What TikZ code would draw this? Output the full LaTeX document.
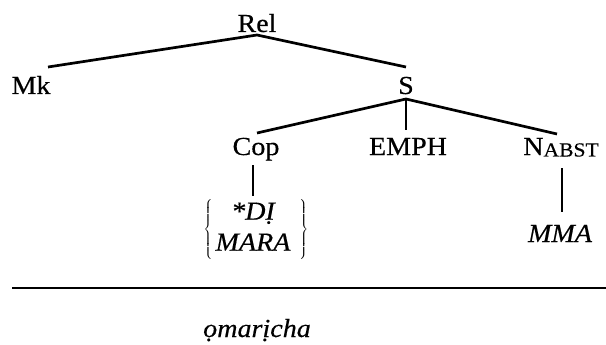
\documentclass[tikz,border=0pt]{standalone}
\usepackage{fontspec}
\setmainfont[FakeStretch=1.08, FakeBold=0.4]{Liberation Serif}
\begin{document}
\begin{tikzpicture}[x=1pt, y={(0pt,-1pt)},
  lab/.style={inner sep=0pt, anchor=base, font=\fontsize{26}{30}\selectfont},
  ital/.style={inner sep=0pt, anchor=base, font=\fontsize{26}{30}\selectfont\itshape},
  branch/.style={line width=2.7pt}]
\useasboundingbox (0,0) rectangle (606,345);

% labels of the tree
\node[lab] (rel)   at (257,32)  {Rel};
\node[lab] (mk)    at (31,94)   {Mk};
\node[lab] (s)     at (406,94)  {S};
\node[lab] (cop)   at (256,155) {Cop};
\node[lab] (emph)  at (408,155) {EMPH};
\node[lab] (nabst) at (561,155) {N\raisebox{-1.5pt}{\fontsize{20}{24}\selectfont ABST}};
\node[inner sep=0pt] (alt) at (256,229)
  {\fontsize{26}{31}\selectfont$\left\{\begin{tabular}{@{\hspace{3pt}}c@{\hspace{9pt}}}
   \itshape *DỊ\\ \itshape MARA\end{tabular}\right\}$};
\node[ital] (mma) at (560,242) {MMA};
\node[ital, anchor=base west] (form) at (203,337) {ọmarịcha};

% branch end points
\coordinate (relJ)  at (257,35);
\coordinate (mkT)   at (48,67);
\coordinate (sT)    at (406,67);
\coordinate (sJ)    at (406,99);
\coordinate (copT)  at (257,133);
\coordinate (emphT) at (406,130);
\coordinate (nT)    at (557,134);
\coordinate (copB)  at (253,165);
\coordinate (altT)  at (253,196);
\coordinate (nB)    at (562,168);
\coordinate (mmaT)  at (562,212);
\coordinate (ruleL) at (12,288);
\coordinate (ruleR) at (606,288);

% branches
\draw[branch] (mkT) -- (relJ) -- (sT);
\draw[branch] (copT) -- (sJ) -- (nT);
\draw[branch] (sJ) -- (emphT);
\draw[line width=2.2pt] (copB) -- (altT);
\draw[line width=2.2pt] (nB) -- (mmaT);

% rule above the surface form
\draw[line width=2.4pt] (ruleL) -- (ruleR);
\end{tikzpicture}
\end{document}
